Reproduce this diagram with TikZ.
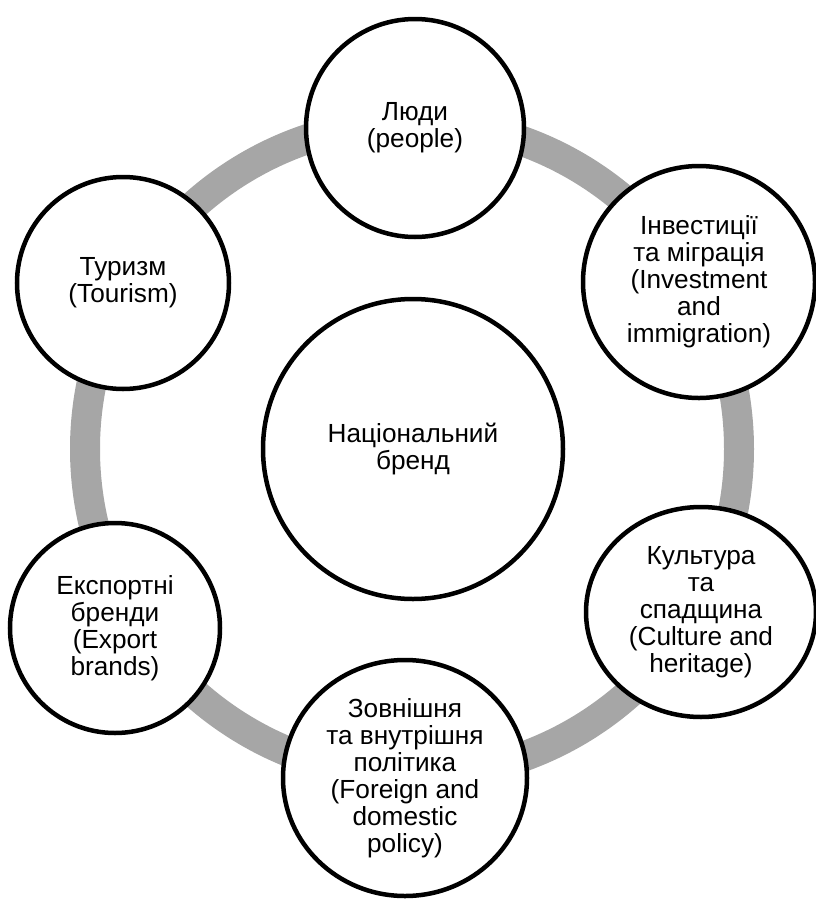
\documentclass[tikz,border=0pt]{standalone}
\usepackage{fontspec}
\setmainfont{Liberation Sans}
\usetikzlibrary{shapes.geometric}
\definecolor{ringgrey}{RGB}{166,166,166}
\begin{document}
\begin{tikzpicture}[x=1pt,y=-1pt,
  bub/.style={draw=black, line width=4.5pt, fill=white, align=center,
    font=\fontsize{26.2}{27}\selectfont, inner sep=0pt, text=black},
  ringline/.style={draw=ringgrey, line width=30pt}]
\useasboundingbox (0,0) rectangle (816,911);
\coordinate (ringc) at (412,449);
\draw[ringline] (ringc) circle[radius=327pt];
\node[bub, circle, minimum size=300pt] (centre) at (413,449) {Національний\\бренд};
\node[bub, circle, minimum size=218pt] (people) at (415,128) {Люди\\(people)};
\node[bub, circle, minimum size=232pt] (invest) at (699,282) {Інвестиції\\та міграція\\(Investment\\and\\immigration)};
\node[bub, ellipse, minimum width=230pt, minimum height=210pt] (culture) at (701,612) {Культура\\та\\спадщина\\(Culture and\\heritage)};
\node[bub, ellipse, minimum width=244pt, minimum height=236pt] (policy) at (405,778) {Зовнішня\\та внутрішня\\політика\\(Foreign and\\domestic\\policy)};
\node[bub, circle, minimum size=210pt] (export) at (115,628) {Експортні\\бренди\\(Export\\brands)};
\node[bub, circle, minimum size=212pt] (tourism) at (123,283) {Туризм\\(Tourism)};
\end{tikzpicture}
\end{document}
